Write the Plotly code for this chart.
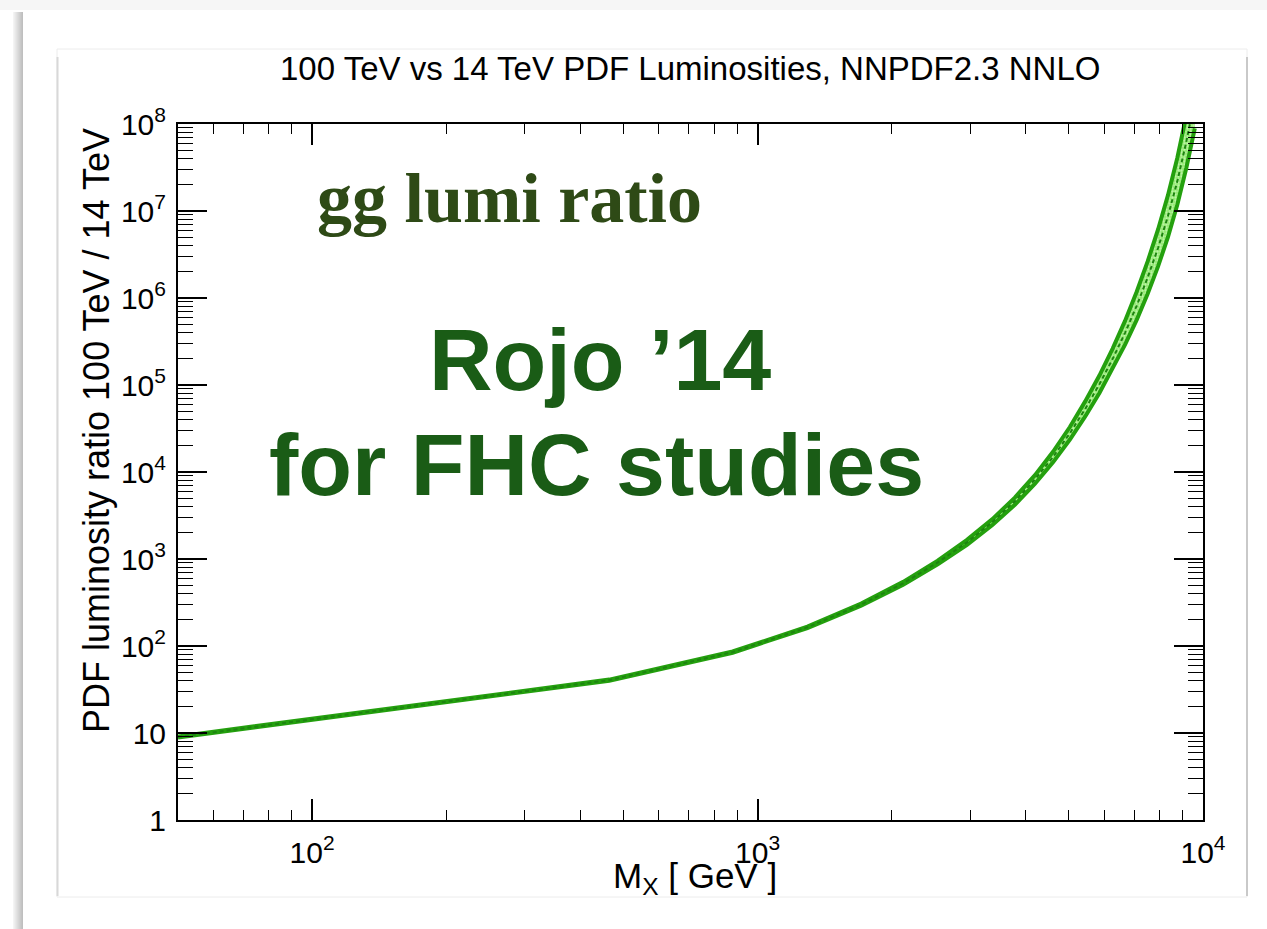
import math
import plotly.graph_objects as go

# gg luminosity ratio 100 TeV / 14 TeV (NNPDF2.3 NNLO) vs invariant mass
mass_gev = [50.0, 464.6, 879.2, 1293.8, 1708.3, 2122.9, 2537.5, 2952.1, 3366.7,
            3781.2, 4195.8, 4610.4, 5025.0, 5439.6, 5854.2, 6268.8, 6683.3,
            7097.9, 7512.5, 7927.1, 8341.7, 8756.2, 9170.8, 9585.4]
gg_ratio_central = [9.0, 40.5, 85.0, 164.0, 299.0, 525.0, 912.0, 1550.0, 2660.0,
                    4620.0, 8220.0, 14960.0, 27900.0, 53100.0, 102000.0, 200000.0,
                    398000.0, 813000.0, 1.72e6, 3.76e6, 8.7e6, 2.19e7, 6.2e7, 1.9e8]
gg_ratio_upper = [9.14, 41.1, 86.4, 167.0, 308.0, 546.0, 958.0, 1660.0, 2870.0,
                  5080.0, 9200.0, 17200.0, 32900.0, 64800.0, 128500.0, 262000.0,
                  545000.0, 1.18e6, 2.63e6, 6.13e6, 1.51e7, 4.07e7, 1.24e8, 4.1e8]
gg_ratio_lower = [8.87, 39.9, 83.7, 161.0, 290.0, 505.0, 869.0, 1450.0, 2460.0,
                  4200.0, 7340.0, 13000.0, 23600.0, 43500.0, 81000.0, 153000.0,
                  291000.0, 561000.0, 1.12e6, 2.31e6, 5.0e6, 1.18e7, 3.1e7, 8.9e7]

x_tick_vals = [1e2, 1e3, 1e4]
x_tick_text = ["10<sup>2</sup>", "10<sup>3</sup>", "10<sup>4</sup>"]
y_tick_vals = [1, 10, 1e2, 1e3, 1e4, 1e5, 1e6, 1e7, 1e8]
y_tick_text = ["1", "10"] + ["10<sup>%d</sup>" % k for k in range(2, 9)]

# canvas and plot-area geometry (pixels)
W, H = 1267, 929
PL, PR, PT, PB = 178, 1203, 124, 820


def px(x):
    return (x - PL) / (PR - PL)


def py(y):
    return (PB - y) / (PB - PT)


GREEN = "#24a00e"
DARK = "#1d8410"

fig = go.Figure()
fig.add_trace(go.Scatter(x=mass_gev, y=gg_ratio_lower, mode="lines",
                         line=dict(color=GREEN, width=4), hoverinfo="skip",
                         showlegend=False))
fig.add_trace(go.Scatter(x=mass_gev, y=gg_ratio_upper, mode="lines",
                         line=dict(color=GREEN, width=4), fill="tonexty",
                         fillcolor="#a6f08a",
                         fillpattern=dict(shape=".", bgcolor="#8fe86c",
                                          fgcolor="#eaffdf", size=3, solidity=0.45),
                         hoverinfo="skip", showlegend=False))
fig.add_trace(go.Scatter(x=mass_gev, y=gg_ratio_central, mode="lines",
                         line=dict(color=DARK, width=2, dash="4px,3px"),
                         hoverinfo="skip", showlegend=False))

x_minor = [m * 10 ** d for d in (1, 2, 3) for m in range(2, 10) if 50 < m * 10 ** d < 1e4]
y_minor = [m * 10 ** d for d in range(0, 8) for m in range(2, 10)]

axis_font = dict(family="Liberation Sans, Arial, sans-serif", size=30, color="black")

fig.update_xaxes(type="log", range=[math.log10(50), 4], tickmode="array",
                 tickvals=x_tick_vals, ticktext=x_tick_text, ticks="inside",
                 ticklen=21, tickwidth=1.6, tickcolor="black", showline=True,
                 linewidth=2, linecolor="black", mirror="allticks", showgrid=False,
                 zeroline=False, tickfont=axis_font, ticklabelstandoff=5,
                 minor=dict(ticks="inside", ticklen=10, tickwidth=1.4,
                            tickcolor="black", tickmode="array", tickvals=x_minor,
                            showgrid=False))
fig.update_yaxes(type="log", range=[0, 8], tickmode="array",
                 tickvals=y_tick_vals, ticktext=y_tick_text, ticks="inside",
                 ticklen=29, tickwidth=1.6, tickcolor="black", showline=True,
                 linewidth=2, linecolor="black", mirror="allticks", showgrid=False,
                 zeroline=False, tickfont=axis_font, ticklabelstandoff=4,
                 minor=dict(ticks="inside", ticklen=15, tickwidth=1.4,
                            tickcolor="black", tickmode="array", tickvals=y_minor,
                            showgrid=False))

# page decoration: slide edge shadow and framed picture box
shapes = []
shapes.append(dict(type="rect", xref="paper", yref="paper", x0=px(0), x1=px(W),
                   y0=py(0), y1=py(10), fillcolor="#f6f6f6", line=dict(width=0),
                   layer="below"))
for i, c in enumerate(["#f4f4f4", "#eeeeee", "#e8e8e8", "#e2e2e2", "#dcdcdc",
                       "#d6d6d6", "#d0d0d0", "#cacaca", "#c4c4c4", "#bfbfbf"]):
    shapes.append(dict(type="rect", xref="paper", yref="paper",
                       x0=px(13 + i), x1=px(14 + i), y0=py(12), y1=py(H),
                       fillcolor=c, line=dict(width=0), layer="below"))
shapes.append(dict(type="rect", xref="paper", yref="paper", x0=px(57), x1=px(1247),
                   y0=py(897), y1=py(49), fillcolor="white",
                   line=dict(color="#ececec", width=1), layer="below"))
shapes.append(dict(type="line", xref="paper", yref="paper", x0=px(57.5), x1=px(57.5),
                   y0=py(57), y1=py(896), line=dict(color="#d8d8d8", width=2),
                   layer="below"))
shapes.append(dict(type="line", xref="paper", yref="paper", x0=px(1247), x1=px(1247),
                   y0=py(57), y1=py(896), line=dict(color="#c9c9c9", width=2),
                   layer="below"))

sans = "Liberation Sans, Arial, sans-serif"
annotations = [
    dict(text="100 TeV vs 14 TeV PDF Luminosities, NNPDF2.3 NNLO", x=px(690), y=py(68),
         font=dict(family=sans, size=33, color="black")),
    dict(text="PDF luminosity ratio 100 TeV / 14 TeV", x=px(96), y=py(431),
         textangle=-90, font=dict(family=sans, size=36, color="black")),
    dict(text="M<sub>X</sub> [ GeV ]", x=px(695), y=py(878),
         font=dict(family=sans, size=35, color="black")),
    dict(text="<b>gg lumi ratio</b>", x=px(509), y=py(198),
         font=dict(family="Liberation Serif, Times New Roman, serif", size=70,
                   color="#2e4a16")),
    dict(text="<b>Rojo \u201914</b>", x=px(600), y=py(359),
         font=dict(family=sans, size=88, color="#1a5c16")),
    dict(text="<b>for FHC studies</b>", x=px(596), y=py(464),
         font=dict(family=sans, size=88, color="#1a5c16")),
]
for a in annotations:
    a.update(xref="paper", yref="paper", showarrow=False, xanchor="center",
             yanchor="middle")

fig.update_layout(width=W, height=H, margin=dict(l=PL, r=W - PR, t=PT, b=H - PB),
                  paper_bgcolor="white", plot_bgcolor="white", shapes=shapes,
                  annotations=annotations, showlegend=False)

fig.write_html("out.html")
